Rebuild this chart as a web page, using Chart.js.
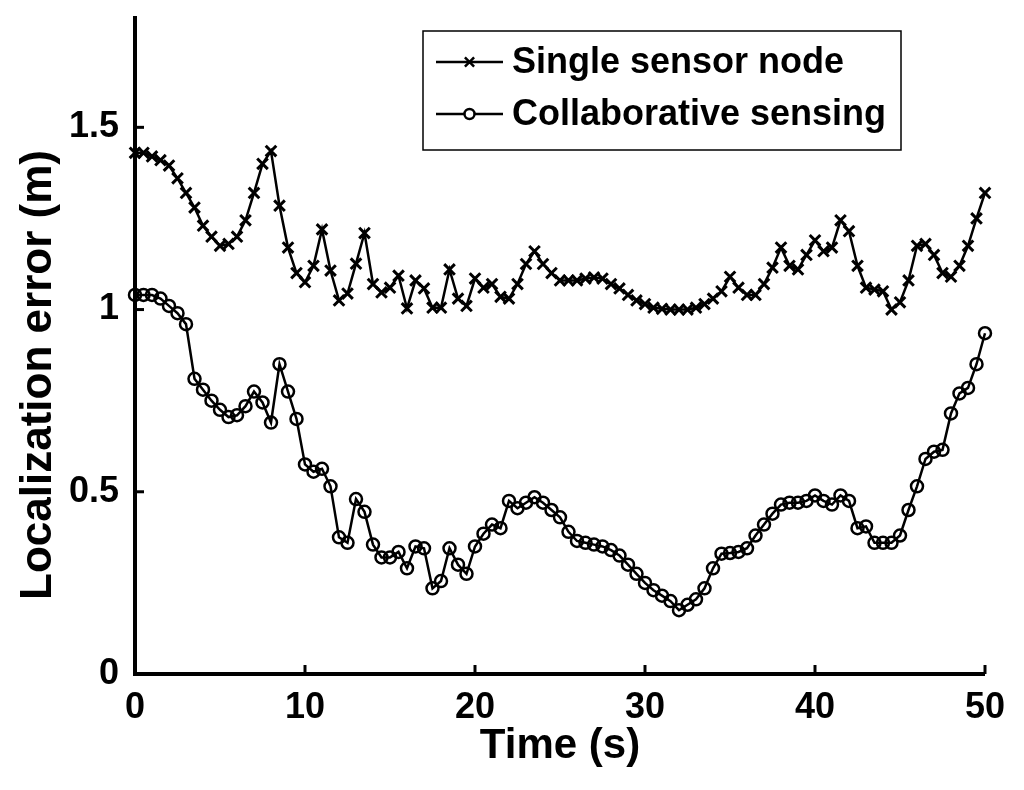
<!DOCTYPE html>
<html>
<head>
<meta charset="utf-8">
<script src="https://cdn.jsdelivr.net/npm/chart.js@4/dist/chart.umd.min.js"></script>
<style>
  html, body { margin: 0; padding: 0; background: #fff; }
  #wrap { width: 1024px; height: 790px; }
</style>
</head>
<body>
<div id="wrap"><canvas id="chart" width="1024" height="790"></canvas></div>
<script>
// time stamps (s)
const TIME = [0, 0.5, 1, 1.5, 2, 2.5, 3, 3.5, 4, 4.5, 5, 5.5, 6, 6.5, 7, 7.5, 8, 8.5, 9, 9.5,
    10, 10.5, 11, 11.5, 12, 12.5, 13, 13.5, 14, 14.5, 15, 15.5, 16, 16.5, 17, 17.5, 18, 18.5, 19, 19.5,
    20, 20.5, 21, 21.5, 22, 22.5, 23, 23.5, 24, 24.5, 25, 25.5, 26, 26.5, 27, 27.5, 28, 28.5, 29, 29.5,
    30, 30.5, 31, 31.5, 32, 32.5, 33, 33.5, 34, 34.5, 35, 35.5, 36, 36.5, 37, 37.5, 38, 38.5, 39, 39.5,
    40, 40.5, 41, 41.5, 42, 42.5, 43, 43.5, 44, 44.5, 45, 45.5, 46, 46.5, 47, 47.5, 48, 48.5, 49, 49.5, 50]

// localization error (m)
const SINGLE = [1.43, 1.43, 1.42, 1.41, 1.395, 1.36, 1.32, 1.28, 1.23, 1.20,
    1.175, 1.18, 1.20, 1.245, 1.32, 1.40, 1.435, 1.285, 1.17, 1.10,
    1.075, 1.12, 1.22, 1.107, 1.025, 1.044, 1.126, 1.21, 1.07, 1.047,
    1.06, 1.093, 1.003, 1.08, 1.058, 1.005, 1.005, 1.11, 1.03, 1.01,
    1.085, 1.06, 1.07, 1.035, 1.03, 1.07, 1.125, 1.16, 1.125, 1.10,
    1.08, 1.08, 1.08, 1.085, 1.088, 1.085, 1.07, 1.058, 1.04, 1.025,
    1.015, 1.005, 1.002, 1.0, 1.0, 1.0, 1.005, 1.015, 1.03, 1.05,
    1.09, 1.06, 1.04, 1.04, 1.07, 1.115, 1.17, 1.12, 1.11, 1.15,
    1.19, 1.16, 1.17, 1.245, 1.215, 1.12, 1.06, 1.055, 1.05, 1.0,
    1.02, 1.08, 1.175, 1.18, 1.15, 1.10, 1.09, 1.12, 1.175, 1.25, 1.32]

const COLLAB = [1.04, 1.04, 1.04, 1.03, 1.01, 0.99, 0.96, 0.81, 0.78, 0.75,
    0.725, 0.705, 0.71, 0.735, 0.775, 0.745, 0.69, 0.85, 0.775, 0.70,
    0.575, 0.555, 0.563, 0.515, 0.375, 0.36, 0.48, 0.445, 0.355, 0.32,
    0.32, 0.335, 0.29, 0.35, 0.345, 0.235, 0.255, 0.345, 0.30, 0.275,
    0.35, 0.385, 0.41, 0.40, 0.475, 0.455, 0.47, 0.485, 0.47, 0.45,
    0.43, 0.39, 0.365, 0.36, 0.355, 0.35, 0.34, 0.325, 0.30, 0.275,
    0.25, 0.23, 0.215, 0.20, 0.175, 0.19, 0.205, 0.235, 0.29, 0.33,
    0.332, 0.335, 0.345, 0.38, 0.41, 0.44, 0.465, 0.47, 0.47, 0.475,
    0.49, 0.475, 0.465, 0.49, 0.475, 0.40, 0.405, 0.36, 0.36, 0.36,
    0.38, 0.45, 0.515, 0.59, 0.61, 0.615, 0.715, 0.77, 0.785, 0.85, 0.935]

const SERIES_NAMES = ["Single sensor node", "Collaborative sensing"]
const X_TICKS = [0, 10, 20, 30, 40, 50]
const Y_TICKS = [0, 0.5, 1, 1.5]
const X_TITLE = "Time (s)"
const Y_TITLE = "Localization error (m)"

const FONT = "'Liberation Sans', Arial, Helvetica, sans-serif"
Chart.defaults.font.family = FONT
Chart.defaults.font.weight = "bold"
Chart.defaults.color = "#000"

function points(values) {
    return TIME.map((t, i) => ({ x: t, y: values[i] }))
}

// tick marks pointing into the plot, like the original figure
const innerTicks = {
    id: "innerTicks",
    afterDraw(chart) {
        const ctx = chart.ctx
        const { left, bottom } = chart.chartArea
        const len = 9
        ctx.save()
        ctx.strokeStyle = "#000"
        ctx.lineWidth = 3
        X_TICKS.forEach(v => {
            if (v === 0) return
            const px = chart.scales.x.getPixelForValue(v)
            ctx.beginPath(); ctx.moveTo(px, bottom); ctx.lineTo(px, bottom - len); ctx.stroke()
        })
        Y_TICKS.forEach(v => {
            if (v === 0) return
            const py = chart.scales.y.getPixelForValue(v)
            ctx.beginPath(); ctx.moveTo(left, py); ctx.lineTo(left + len, py); ctx.stroke()
        })
        ctx.restore()
    }
}

// y title, placed a bit lower than the axis centre as in the source
const yTitle = {
    id: "yTitle",
    afterDraw(chart) {
        const ctx = chart.ctx
        ctx.save()
        ctx.translate(39, 375)
        ctx.rotate(-Math.PI / 2)
        ctx.font = "bold 44px " + FONT
        ctx.fillStyle = "#000"
        ctx.textAlign = "center"
        ctx.textBaseline = "middle"
        ctx.fillText(Y_TITLE, 0, 0)
        ctx.restore()
    }
}

// boxed legend with line + marker samples
const boxLegend = {
    id: "boxLegend",
    afterDraw(chart) {
        const ctx = chart.ctx
        const box = { x: 423, y: 31, w: 478, h: 119 }
        const rows = [62, 114]
        ctx.save()
        ctx.fillStyle = "#fff"
        ctx.fillRect(box.x, box.y, box.w, box.h)
        ctx.strokeStyle = "#000"
        ctx.lineWidth = 1.5
        ctx.strokeRect(box.x, box.y, box.w, box.h)
        chart.data.datasets.forEach((ds, i) => {
            const y = rows[i]
            ctx.strokeStyle = "#000"
            ctx.lineWidth = 2.5
            ctx.beginPath(); ctx.moveTo(436, y); ctx.lineTo(503, y); ctx.stroke()
            ctx.fillStyle = "#fff"
            ctx.strokeStyle = "#000"
            Chart.helpers.drawPoint(ctx, {
                pointStyle: ds.pointStyle, radius: i === 0 ? 6.5 : 5,
                borderWidth: 2.5, rotation: 0
            }, 469.5, y)
            ctx.fillStyle = "#000"
            ctx.font = "bold 36px " + FONT
            ctx.textAlign = "left"
            ctx.textBaseline = "middle"
            ctx.fillText(ds.label, 512, y + 1)
        })
        ctx.restore()
    }
}

new Chart(document.getElementById("chart"), {
    type: "line",
    data: {
        datasets: [{
            label: SERIES_NAMES[0],
            data: points(SINGLE),
            borderColor: "#000",
            borderWidth: 2.5,
            pointStyle: "crossRot",
            pointRadius: 7.5,
            pointBorderWidth: 3,
            pointBorderColor: "#000",
            pointBackgroundColor: "rgba(0,0,0,0)",
            clip: false
        }, {
            label: SERIES_NAMES[1],
            data: points(COLLAB),
            borderColor: "#000",
            borderWidth: 2.5,
            pointStyle: "circle",
            pointRadius: 6,
            pointBorderWidth: 2.5,
            pointBorderColor: "#000",
            pointBackgroundColor: "rgba(0,0,0,0)",
            clip: false
        }]
    },
    options: {
        responsive: false,
        animation: false,
        devicePixelRatio: 1,
        layout: { padding: { left: 0, right: 39, top: 18, bottom: 0 } },
        elements: { line: { tension: 0 } },
        plugins: {
            legend: { display: false },
            tooltip: { enabled: false }
        },
        scales: {
            x: {
                type: "linear",
                min: 0,
                max: 50,
                afterBuildTicks: s => { s.ticks = X_TICKS.map(v => ({ value: v })) },
                afterFit: s => { s.height = 116; s.paddingLeft = 0; s.paddingRight = 0 },
                grid: { display: true, drawOnChartArea: false, drawTicks: false, lineWidth: 0 },
                border: { display: true, color: "#000", width: 4 },
                ticks: { font: { size: 36, weight: "bold" }, padding: 12, maxRotation: 0, color: "#000" },
                title: {
                    display: true, text: X_TITLE, color: "#000",
                    font: { size: 42, weight: "bold" },
                    padding: { top: 0, bottom: 18 }
                }
            },
            y: {
                type: "linear",
                min: 0,
                max: 1.8,
                afterBuildTicks: s => { s.ticks = Y_TICKS.map(v => ({ value: v })) },
                afterFit: s => { s.width = 135; s.paddingTop = 0; s.paddingBottom = 0 },
                grid: { display: true, drawOnChartArea: false, drawTicks: false, lineWidth: 0 },
                border: { display: true, color: "#000", width: 4 },
                ticks: {
                    font: { size: 36, weight: "bold" }, padding: 16, color: "#000",
                    callback: v => String(v)
                }
            }
        }
    },
    plugins: [innerTicks, yTitle, boxLegend]
})
</script>
</body>
</html>
